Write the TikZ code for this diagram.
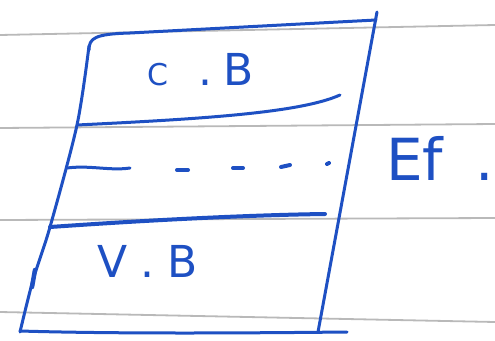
\documentclass[tikz,border=0pt]{standalone}
\usepackage{fontspec}
\setmainfont{DejaVu Sans}
\definecolor{penblue}{RGB}{30,80,195}
\begin{document}
\begin{tikzpicture}[x=1pt,y=-1pt,
  pen/.style={draw=penblue, line width=3pt, line cap=round, line join=round},
  paperline/.style={draw=gray!55, line width=1.8pt},
  lbl/.style={text=penblue, inner sep=0pt, font=\fontsize{44}{48}\selectfont},
  biglbl/.style={text=penblue, inner sep=0pt, font=\fontsize{58}{62}\selectfont}]
\useasboundingbox (0,0) rectangle (495,340);
\fill[white] (0,0) rectangle (495,340);
% ruled paper
\draw[paperline] (0,35) -- (495,25);
\draw[paperline] (0,128) -- (495,124);
\draw[paperline] (0,220) -- (495,218);
\draw[paperline] (0,312) -- (495,322);
% box
\draw[pen] (89,50) .. controls (89,38) and (95,34) .. (130,33) -- (376,20);
\draw[pen] plot[smooth] coordinates {(89,46) (77,125) (50,227) (33,280) (20,332)};
\draw[pen, line width=4.5pt] (35,270) -- (32,287);
\draw[pen] (377,12) -- (318,332);
\draw[pen] (20,331) .. controls (120,334) and (250,333) .. (347,332);
% bands
\draw[pen] (77,125) .. controls (200,119) and (300,113) .. (340,95);
\draw[pen, line width=4pt] (50,227) .. controls (150,220) and (250,215) .. (325,214);
% Fermi level (dashed, hand drawn)
\draw[pen] (67,168) .. controls (90,165) and (110,171) .. (130,168);
\draw[pen, line width=4pt] (177,170) -- (188,170);
\draw[pen, line width=4pt] (233,168) -- (243,168);
\draw[pen, line width=4pt] (281,167) -- (290,165);
\draw[pen, line width=4pt] (327,164) -- (329,163);
% labels
\node[lbl, anchor=base west] (cb) at (147,85) {{\fontsize{30}{32}\selectfont C}\hspace{30pt}.\hspace{11pt}B};
\node[lbl, anchor=base west] (vb) at (97,277) {V\hspace{13pt}.\hspace{13pt}B};
\node[biglbl, anchor=base west] (ef) at (386,180) {Ef\hspace{32pt}.};
\end{tikzpicture}
\end{document}
